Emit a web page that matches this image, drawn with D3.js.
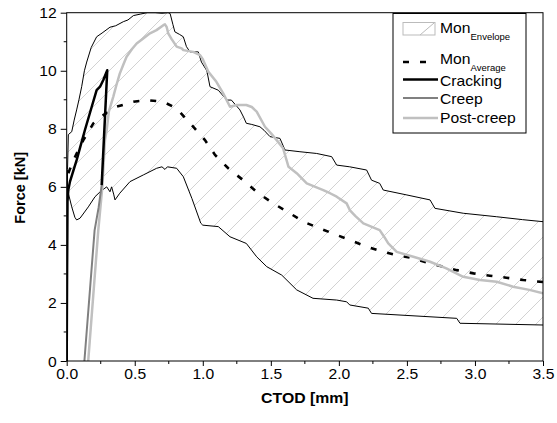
<!DOCTYPE html>
<html><head><meta charset="utf-8">
<script src="https://cdn.jsdelivr.net/npm/d3@7"></script>
<style>
body{margin:0;background:#fff;}
svg{display:block;font-family:"Liberation Sans",Arial,sans-serif;}
</style></head>
<body><svg id="c" width="557" height="423"></svg>
<script>
// ---- data (CTOD [mm], Force [kN]) ----
const envUpperX=[0.003,0.006,0.012,0.037,0.055,0.073,0.09,0.11,0.13,0.147,0.18,0.22,0.26,0.318,0.36,0.416,0.45,0.49,0.54,0.59,0.65,0.7,0.745,0.76,0.78,0.795,0.83,0.857,0.88,0.906,0.967,0.99,1.03,1.053,1.114,1.176,1.21,1.273,1.3,1.32,1.36,1.42,1.45,1.494,1.567,1.604,1.714,1.837,1.947,1.984,2.08,2.204,2.24,2.30,2.326,2.5,2.67,2.706,2.914,3.16,3.35,3.5];
const envUpperF=[0,6.6,7.8,7.9,8.3,8.65,9.0,9.45,10.0,10.3,10.8,11.17,11.3,11.5,11.55,11.69,11.75,11.9,11.95,12.0,12.0,11.98,12.0,11.97,11.6,11.34,11.25,11.17,10.83,10.65,10.65,10.3,10.0,9.45,9.33,8.99,8.99,8.65,8.4,8.19,8.15,8.07,7.95,7.73,7.67,7.27,7.21,7.15,7.04,6.75,6.69,6.58,6.23,6.12,5.89,5.72,5.55,5.26,5.09,4.97,4.87,4.80];
const envLowerX=[0.003,0.008,0.012,0.037,0.06,0.073,0.098,0.159,0.208,0.25,0.294,0.318,0.33,0.345,0.355,0.39,0.465,0.563,0.661,0.7,0.722,0.74,0.808,0.857,0.92,0.985,1.0,1.114,1.2,1.32,1.396,1.47,1.58,1.69,1.81,1.984,2.057,2.08,2.216,2.24,2.866,2.89,3.5];
const envLowerF=[0,5.5,5.78,5.31,4.95,4.86,4.92,5.31,5.66,5.85,6.0,5.83,6.0,5.75,5.55,5.78,6.18,6.41,6.64,6.69,6.6,6.69,6.64,6.35,5.6,4.75,4.68,4.63,4.28,4.05,3.59,3.25,2.96,2.45,2.16,2.10,2.04,1.93,1.82,1.64,1.47,1.30,1.24];
const avgX=[0.012,0.049,0.122,0.196,0.269,0.367,0.49,0.588,0.71,0.808,0.918,1.016,1.09,1.187,1.31,1.408,1.518,1.64,1.738,1.86,1.984,2.08,2.204,2.326,2.425,2.547,2.67,2.866,2.99,3.11,3.23,3.355,3.5];
const avgF=[6.47,6.92,7.61,8.19,8.47,8.76,8.93,8.99,8.93,8.70,8.13,7.61,7.10,6.64,6.18,5.78,5.43,5.09,4.80,4.57,4.34,4.17,3.94,3.76,3.65,3.54,3.36,3.13,3.02,2.94,2.87,2.79,2.72];
const crackX=[0,0.005,0.012,0.024,0.073,0.134,0.184,0.22,0.245,0.269,0.298,0.257];
const crackF=[0,5.5,5.9,6.18,6.92,7.96,8.76,9.33,9.45,9.68,10.02,6.06];
const creepX=[0.257,0.235,0.205,0.13];
const creepF=[6.06,5.3,4.5,0];
const postX=[0.158,0.232,0.262,0.281,0.294,0.31,0.342,0.365,0.39,0.415,0.44,0.48,0.514,0.56,0.612,0.66,0.71,0.722,0.735,0.746,0.77,0.808,0.845,0.857,0.93,0.98,1.0,1.04,1.10,1.15,1.2,1.25,1.32,1.36,1.396,1.457,1.5,1.543,1.59,1.63,1.69,1.764,1.885,1.935,1.984,2.057,2.08,2.12,2.18,2.30,2.33,2.363,2.425,2.547,2.67,2.79,2.914,3.037,3.16,3.28,3.40,3.5];
const postF=[0,4.5,6.0,7.6,7.96,8.6,9.1,9.5,9.9,10.2,10.48,10.75,10.94,11.1,11.29,11.4,11.57,11.6,11.5,11.29,11.1,10.83,10.77,10.71,10.65,10.54,10.4,9.97,9.62,9.22,8.76,8.82,8.82,8.75,8.59,8.07,7.85,7.61,7.33,6.69,6.47,6.12,5.89,5.78,5.66,5.43,5.2,5.0,4.74,4.51,4.3,4.05,3.76,3.59,3.42,3.19,2.90,2.79,2.73,2.56,2.45,2.33];
const xTicks=[0,0.5,1.0,1.5,2.0,2.5,3.0,3.5];
const yTicks=[0,2,4,6,8,10,12];
const legendLabels=["Mon","Mon","Cracking","Creep","Post-creep"];
const legendSubs=["Envelope","Average","","",""];

const zip=(X,Y)=>X.map((v,i)=>[v,Y[i]]);
const svg=d3.select("#c");
const L=66.7,R=543,T=12.7,B=361;
const x=d3.scaleLinear().domain([0,3.5]).range([L,R]);
const y=d3.scaleLinear().domain([0,12]).range([B,T]);
const SX=1.12; // horizontal stretch of text seen in the reference

const defs=svg.append("defs");
const pat=defs.append("pattern").attr("id","hatch").attr("patternUnits","userSpaceOnUse").attr("width",20).attr("height",20);
pat.append("path").attr("d","M0,20L20,0M-5,5L5,-5M15,25L25,15").attr("stroke","#d2d2d2").attr("stroke-width",1);
defs.append("clipPath").attr("id","clip").append("rect").attr("x",L).attr("y",T).attr("width",R-L).attr("height",B-T);

const g=svg.append("g").attr("clip-path","url(#clip)");
const line=d3.line().x(d=>x(d[0])).y(d=>y(d[1]));
const up=zip(envUpperX,envUpperF), lo=zip(envLowerX,envLowerF);
const poly=up.concat(lo.slice().reverse());
g.append("path").attr("d",line(poly)+"Z").attr("fill","url(#hatch)").attr("stroke","none");
g.append("path").attr("d",line(up)).attr("fill","none").attr("stroke","#000").attr("stroke-width",1);
g.append("path").attr("d",line(lo)).attr("fill","none").attr("stroke","#000").attr("stroke-width",1);
g.append("path").attr("d",line(zip(avgX,avgF))).attr("fill","none").attr("stroke","#000").attr("stroke-width",2.6).attr("stroke-dasharray","6,11");
g.append("path").attr("d",line(zip(postX,postF))).attr("fill","none").attr("stroke","#c0c0c0").attr("stroke-width",2.5).attr("stroke-linejoin","round");
g.append("path").attr("d",line(zip(creepX,creepF))).attr("fill","none").attr("stroke","#808080").attr("stroke-width",2);
g.append("path").attr("d",line(zip(crackX,crackF))).attr("fill","none").attr("stroke","#000").attr("stroke-width",2.5).attr("stroke-linejoin","round");

// frame
svg.append("rect").attr("x",L).attr("y",T).attr("width",R-L).attr("height",B-T).attr("fill","none").attr("stroke","#000").attr("stroke-width",1);

// axes
const xa=svg.append("g").attr("transform",`translate(0,${B})`)
  .call(d3.axisBottom(x).tickValues(xTicks).tickFormat(d3.format(".1f")).tickSize(5).tickPadding(3));
const ya=svg.append("g").attr("transform",`translate(${L},0)`)
  .call(d3.axisLeft(y).tickValues(yTicks).tickFormat(d3.format("d")).tickSize(6).tickPadding(3));
[xa,ya].forEach(a=>{a.select(".domain").remove();a.attr("font-family",null).attr("font-size",null);
  a.selectAll("text").attr("font-size",14).attr("fill","#000").attr("transform",`scale(${SX},1)`);
  a.selectAll("line").attr("stroke","#000");});
ya.selectAll("text").attr("x",-10/SX).attr("dy","0.36em");
// minor ticks
const xMinor=xTicks.slice(0,-1).map(v=>v+0.25);
const yMinor=yTicks.slice(0,-1).map(v=>v+1);
svg.append("g").selectAll("line").data(xMinor).join("line").attr("x1",d=>x(d)).attr("x2",d=>x(d)).attr("y1",B).attr("y2",B+3).attr("stroke","#000");
svg.append("g").selectAll("line").data(yMinor).join("line").attr("y1",d=>y(d)).attr("y2",d=>y(d)).attr("x1",L).attr("x2",L-3).attr("stroke","#000");

svg.append("text").attr("transform",`translate(${(L+R)/2},403) scale(1.13,1)`).attr("text-anchor","middle").attr("font-size",14).attr("font-weight","bold").text("CTOD [mm]");
svg.append("text").attr("transform",`translate(25,${(T+B)/2+1}) rotate(-90)`).attr("text-anchor","middle").attr("font-size",14.5).attr("font-weight","bold").text("Force [kN]");

// legend
const lg=svg.append("g");
lg.append("rect").attr("x",393).attr("y",13.5).attr("width",133).attr("height",119.5).attr("fill","#fff").attr("stroke","#000").attr("stroke-width",1);
const rowsY=[33,64,85.5,104,123];
legendLabels.forEach((t,i)=>{
  const tx=lg.append("text").attr("transform",`translate(440,${rowsY[i]}) scale(1.12,1)`).attr("font-size",14);
  tx.append("tspan").text(t);
  if(legendSubs[i]) tx.append("tspan").attr("font-size",8.5).attr("dy",6.5).text(legendSubs[i]);
});
lg.append("rect").attr("x",403).attr("y",22.5).attr("width",32).attr("height",12.5).attr("fill","#fff").attr("stroke","#bbb");
lg.append("line").attr("x1",420).attr("y1",35).attr("x2",434).attr("y2",23).attr("stroke","#bbb");
lg.append("line").attr("x1",403).attr("x2",437).attr("y1",62).attr("y2",62).attr("stroke","#000").attr("stroke-width",2.6).attr("stroke-dasharray","6,11");
lg.append("line").attr("x1",403).attr("x2",438).attr("y1",79.5).attr("y2",79.5).attr("stroke","#000").attr("stroke-width",2.5);
lg.append("line").attr("x1",403).attr("x2",438).attr("y1",98).attr("y2",98).attr("stroke","#808080").attr("stroke-width",2);
lg.append("line").attr("x1",403).attr("x2",438).attr("y1",118).attr("y2",118).attr("stroke","#c0c0c0").attr("stroke-width",2.5);
</script></body></html>
